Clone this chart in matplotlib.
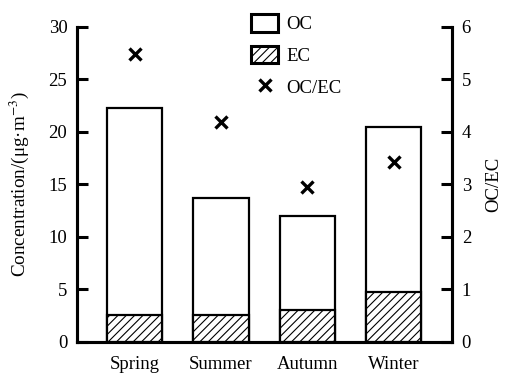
import matplotlib
matplotlib.use("Agg")
import matplotlib.pyplot as plt
from matplotlib.patches import Patch
from matplotlib.lines import Line2D
import numpy as np

seasons = ['Spring', 'Summer', 'Autumn', 'Winter']
oc = [22.2, 13.7, 12.0, 20.4]
ec = [2.5, 2.5, 3.0, 4.7]
oc_ec = [5.48, 4.19, 2.95, 3.43]

plt.rcParams['font.family'] = ['Liberation Serif', 'DejaVu Serif']
plt.rcParams['hatch.linewidth'] = 0.8
plt.rcParams['mathtext.fontset'] = 'stix'

fig = plt.figure(figsize=(5.07, 3.75), dpi=100)
ax = fig.add_axes([0.152, 0.0893, 0.7395, 0.8397])
ax2 = ax.twinx()

x = np.arange(len(seasons))
w = 0.64
ax.bar(x, oc, width=w, color='white', edgecolor='black', linewidth=1.6, zorder=2)
ax.bar(x, ec, width=w, color='white', edgecolor='black', linewidth=1.6,
       hatch='////', zorder=3)
ax2.plot(x, oc_ec, linestyle='none', marker='x', color='black',
         markersize=8, markeredgewidth=2.4)

ax.set_xlim(-0.665, 3.675)
ax.set_ylim(0, 30)
ax.set_yticks(range(0, 31, 5))
ax2.set_ylim(0, 6)
ax2.set_yticks(range(0, 7))

ax.set_xticks(x)
ax.set_xticklabels(seasons)

for a in (ax, ax2):
    a.spines['top'].set_visible(False)
    for s in a.spines.values():
        s.set_linewidth(2.2)
ax.tick_params(axis='y', direction='in', length=8, width=2.2, labelsize=13.5, pad=7)
ax2.tick_params(axis='y', direction='in', length=8, width=2.2, labelsize=13.5, pad=7)
ax.tick_params(axis='x', length=0, labelsize=13.5, pad=10.5)

ax.set_ylabel('Concentration/(μg·m$^{-3}$)', fontsize=13.8, labelpad=13)
ax2.set_ylabel('OC/EC', fontsize=13.5, labelpad=10)

handles = [
    Patch(facecolor='white', edgecolor='black', linewidth=2.2),
    Patch(facecolor='white', edgecolor='black', linewidth=2.2, hatch='////'),
    Line2D([], [], linestyle='none', marker='x', color='black',
           markersize=8, markeredgewidth=2.4),
]
ax.legend(handles, ['OC', 'EC', 'OC/EC'], loc='upper left',
          bbox_to_anchor=(0.462, 1.007), bbox_transform=fig.transFigure,
          frameon=False, fontsize=13.5, handlelength=1.45, handleheight=1.05,
          handletextpad=0.45, labelspacing=0.68)

fig.savefig('out.png', dpi=100)
